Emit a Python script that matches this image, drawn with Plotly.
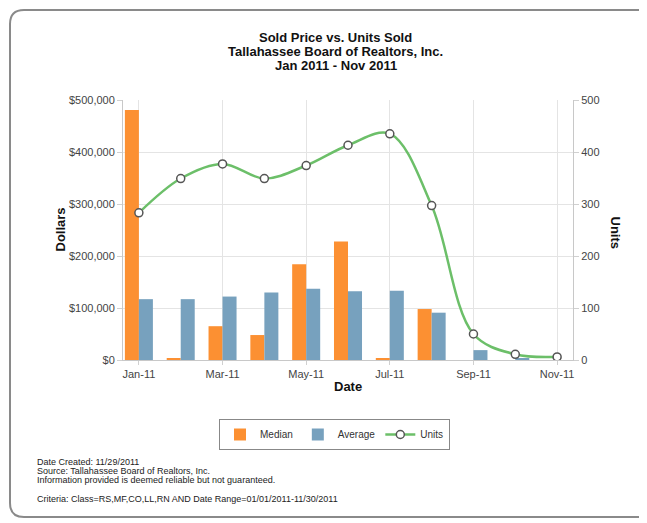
import plotly.graph_objects as go

# monthly data, Jan 2011 - Nov 2011
months = ["Jan-11", "Feb-11", "Mar-11", "Apr-11", "May-11", "Jun-11",
          "Jul-11", "Aug-11", "Sep-11", "Oct-11", "Nov-11"]
median_price = [481000, 3000, 65000, 48000, 184000, 228000, 3000, 98000, 0, 0, 0]
average_price = [117000, 117000, 122000, 130000, 137000, 132000, 133000, 91000, 19000, 2000, 0]
units_sold = [283, 349, 377, 349, 374, 413, 435, 297, 50, 11, 6]

shown_ticks = ["Jan-11", "Mar-11", "May-11", "Jul-11", "Sep-11", "Nov-11"]
dollar_ticks = [0, 100000, 200000, 300000, 400000, 500000]
dollar_labels = ["$0", "$100,000", "$200,000", "$300,000", "$400,000", "$500,000"]

footer_lines = [
    "Date Created: 11/29/2011",
    "Source: Tallahassee Board of Realtors, Inc.",
    "Information provided is deemed reliable but not guaranteed.",
    "Criteria: Class=RS,MF,CO,LL,RN AND Date Range=01/01/2011-11/30/2011",
]
footer_y = [462, 471, 480, 499]

# page has an 8px body margin, so the figure is drawn 8px smaller
OFF = 8
W, H = 647 - OFF, 523 - OFF
L, R, T, B = 123 - OFF, 74, 100 - OFF, 163
PW, PH = W - L - R, H - T - B


def px(x):
    # screen pixel -> paper x
    return (x - OFF - L) / PW


def py(y):
    # screen pixel -> paper y
    return (T + PH - (y - OFF)) / PH


fig = go.Figure()

fig.add_trace(go.Bar(x=months, y=median_price, name="Median",
                     marker=dict(color="#fc9032", line_width=0)))
fig.add_trace(go.Bar(x=months, y=average_price, name="Average",
                     marker=dict(color="#77a1be", line_width=0)))
fig.add_trace(go.Scatter(x=months, y=units_sold, name="Units", yaxis="y2",
                         mode="lines+markers",
                         line=dict(color="#6cbf69", width=2.5, shape="spline", smoothing=1),
                         marker=dict(size=8, color="white", line=dict(color="#555555", width=1.5))))

axis_font = dict(family="Liberation Sans, Arial, sans-serif", size=11, color="#444444")
bold_font = dict(family="Liberation Sans, Arial, sans-serif", size=13, color="#111111")

fig.update_layout(
    width=W, height=H,
    margin=dict(l=L, r=R, t=T, b=B),
    paper_bgcolor="white", plot_bgcolor="white",
    barmode="group", bargap=0.33, bargroupgap=0,
    showlegend=True,
    legend=dict(orientation="h", x=px(334.5), xanchor="center", y=py(419), yanchor="top",
                bordercolor="#888888", borderwidth=1, bgcolor="white",
                font=dict(family="Liberation Sans, Arial, sans-serif", size=10, color="#333333"),
                itemwidth=30),
    xaxis=dict(type="category", range=[-0.38, 10.38], tickvals=shown_ticks,
               showgrid=True, gridcolor="#e4e4e4", showline=True, linecolor="#c8c8c8",
               ticks="outside", ticklen=4, tickcolor="#d0d0d0",
               tickfont=axis_font, fixedrange=True),
    yaxis=dict(range=[0, 500000], tickvals=dollar_ticks, ticktext=dollar_labels,
               showgrid=True, gridcolor="#e4e4e4", showline=True, linecolor="#c8c8c8",
               ticks="outside", ticklen=5, tickcolor="#d0d0d0", zeroline=False,
               tickfont=axis_font),
    yaxis2=dict(range=[0, 500], dtick=100, overlaying="y", side="right",
                showgrid=False, showline=True, linecolor="#c8c8c8",
                ticks="outside", ticklen=5, tickcolor="#d0d0d0", zeroline=False,
                tickfont=axis_font),
)

# titles
title_lines = ["Sold Price vs. Units Sold", "Tallahassee Board of Realtors, Inc.", "Jan 2011 - Nov 2011"]
for txt, yy in zip(title_lines, [37.5, 51.5, 65.5]):
    fig.add_annotation(text="<b>%s</b>" % txt, x=px(335.5), y=py(yy), xref="paper", yref="paper",
                       showarrow=False, xanchor="center", yanchor="middle", font=bold_font)

fig.add_annotation(text="<b>Dollars</b>", x=px(50), y=py(230), xref="paper", yref="paper",
                   showarrow=False, textangle=-90, font=bold_font)
fig.add_annotation(text="<b>Units</b>", x=px(625), y=py(233), xref="paper", yref="paper",
                   showarrow=False, textangle=90, font=bold_font)
fig.add_annotation(text="<b>Date</b>", x=px(348), y=py(396), xref="paper", yref="paper",
                   showarrow=False, font=bold_font)

for txt, yy in zip(footer_lines, footer_y):
    fig.add_annotation(text=txt, x=px(35), y=py(yy), xref="paper", yref="paper",
                       showarrow=False, xanchor="left", yanchor="middle",
                       font=dict(family="Liberation Sans, Arial, sans-serif", size=9, color="#222222"))

# rounded frame around the chart
x0, x1 = px(10), px(670)
y0, y1 = py(10), py(517)
rx, ry = 14 / PW, 14 / PH
frame = (f"M {x1},{y0} L {x0 + rx},{y0} Q {x0},{y0} {x0},{y0 - ry} "
         f"L {x0},{y1 + ry} Q {x0},{y1} {x0 + rx},{y1} L {x1},{y1}")
fig.add_shape(type="path", path=frame, xref="paper", yref="paper",
              line=dict(color="#8a8a8a", width=2))

fig.write_html("out.html")
